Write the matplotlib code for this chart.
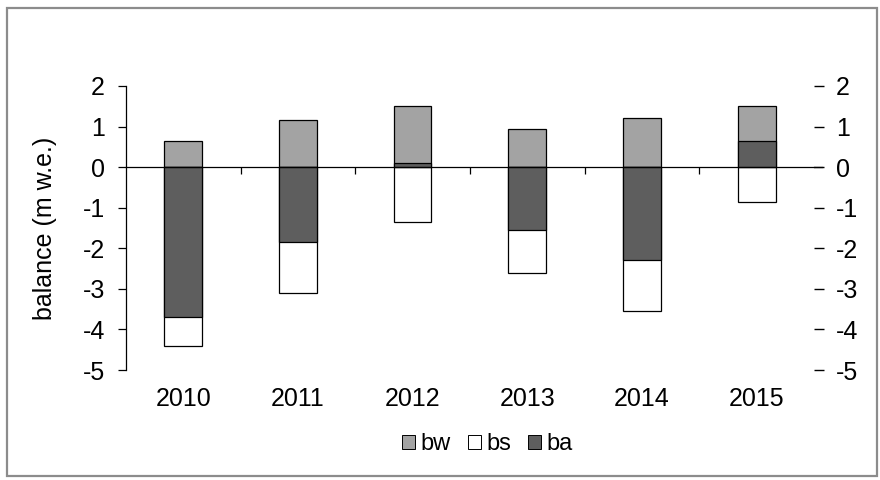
import matplotlib
matplotlib.use("Agg")
import matplotlib.pyplot as plt
from matplotlib.patches import Rectangle, Patch
import numpy as np

plt.rcParams['font.family'] = ['Liberation Sans', 'DejaVu Sans']

years = ["2010", "2011", "2012", "2013", "2014", "2015"]
bw = [0.65, 1.15, 1.50, 0.95, 1.20, 1.50]      # winter balance
bs = [-4.40, -3.10, -1.35, -2.60, -3.55, -0.85]  # summer balance
ba = [-3.70, -1.85, 0.10, -1.55, -2.30, 0.65]   # annual balance
yticks = [2, 1, 0, -1, -2, -3, -4, -5]

c_bw = "#a3a3a3"
c_bs = "#ffffff"
c_ba = "#5e5e5e"
fs = 18

fig = plt.figure(figsize=(8.8, 4.8), dpi=100)
ax = fig.add_axes([0.143, 0.229, 0.782, 0.592])

x = np.arange(len(years))
w = 0.33
ax.bar(x, bw, width=w, color=c_bw, edgecolor="black", linewidth=0.9, zorder=2)
ax.bar(x, bs, width=w, color=c_bs, edgecolor="black", linewidth=0.9, zorder=2)
ax.bar(x, ba, width=w, color=c_ba, edgecolor="black", linewidth=0.9, zorder=3)

ax.set_xlim(-0.5, len(years) - 0.5)
ax.set_ylim(-5, 2)

# category axis crossing at zero, tick marks between categories
for s in ["top", "right"]:
    ax.spines[s].set_visible(False)
ax.spines["bottom"].set_position(("data", 0))
ax.spines["bottom"].set_linewidth(0.9)
ax.spines["bottom"].set_zorder(4)
ax.set_xticks(np.arange(0.5, len(years) - 0.5, 1.0))
ax.set_xticklabels([])
ax.tick_params(axis="x", direction="out", length=5, width=0.9)
for xi, lab in zip(x, years):
    ax.text(xi, -0.102, lab, transform=ax.get_xaxis_transform(),
            ha="center", va="center", fontsize=fs)

ax.spines["left"].set_linewidth(0.9)
ax.set_yticks(yticks)
ax.set_yticklabels([str(v) for v in yticks])
ax.tick_params(axis="y", direction="out", length=6, width=0.9, labelsize=fs, pad=9)
fig.text(45 / 880, 1 - 228 / 480, "balance (m w.e.)", rotation=90,
         ha="center", va="center", fontsize=fs)

# secondary value axis on the right
ax2 = ax.twinx()
ax2.set_ylim(ax.get_ylim())
ax2.set_yticks(yticks)
ax2.set_yticklabels([str(v) for v in yticks])
for s in ["top", "left", "bottom", "right"]:
    ax2.spines[s].set_visible(False)
ax2.tick_params(axis="y", direction="out", length=7, width=1.0, labelsize=fs, pad=9)
ax2.plot([len(years) - 0.5, len(years) - 0.43], [0, 0], color="black",
         linewidth=0.9, clip_on=False)

handles = [Patch(facecolor=c_bw, edgecolor="black", linewidth=0.7, label="bw"),
           Patch(facecolor=c_bs, edgecolor="black", linewidth=0.7, label="bs"),
           Patch(facecolor=c_ba, edgecolor="black", linewidth=0.7, label="ba")]
fig.legend(handles=handles, loc="center", bbox_to_anchor=(0.554, 0.075),
           ncol=3, frameon=False, fontsize=17, handlelength=0.55,
           handleheight=0.55, handletextpad=0.25, columnspacing=0.7)

# chart area border
fig.patches.append(Rectangle((0.008, 0.008), 0.989, 0.975, transform=fig.transFigure,
                             fill=False, edgecolor="#8c8c8c", linewidth=1.6))

fig.savefig("out.png", dpi=100, facecolor="white")
